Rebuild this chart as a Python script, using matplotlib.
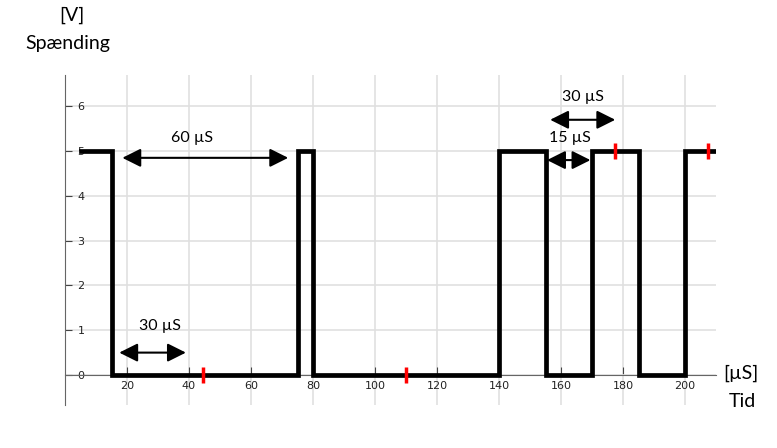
import numpy as np
import matplotlib.pyplot as plt

# Signal: switching times (µS) and levels (V)
t = [5, 15, 75, 80, 140, 155, 170, 185, 200, 210]
v = [5, 0, 5, 0, 5, 0, 5, 0, 5, 5]

# red sample markers
mark_t = [44.5, 110, 177.5, 207.5]
mark_v = [0, 0, 5, 5]

# arrows: (x_start, x_end, y, label, label_x, label_y)
arrows = [
    (18.5, 72, 4.85, "60 µS", 41, 5.3),
    (17.5, 39, 0.5, "30 µS", 30.5, 1.1),
    (156.5, 177.5, 5.7, "30 µS", 167, 6.2),
    (155.5, 169.5, 4.8, "15 µS", 163, 5.3),
]

xticks = [20, 40, 60, 80, 100, 120, 140, 160, 180, 200]
yticks = [0, 1, 2, 3, 4, 5, 6]

fig = plt.figure(figsize=(7.77, 4.48), dpi=100)
ax = fig.add_axes([65 / 777, 43 / 448, 651 / 777, 330 / 448])
ax.set_xlim(0, 210)
ax.set_ylim(-0.67, 6.7)

ax.grid(True, color="#e0e0e0", lw=1.2)
ax.set_axisbelow(True)
ax.set_xticks(xticks)
ax.set_yticks(yticks)

for s in ["top", "right"]:
    ax.spines[s].set_visible(False)
ax.spines["bottom"].set_position(("data", 0))
ax.spines["bottom"].set_color("#666666")
ax.spines["left"].set_color("#666666")

ax.tick_params(axis="x", direction="in", length=6, labelsize=8, pad=4,
               color="#444444", labelcolor="#222222")
ax.tick_params(axis="y", direction="in", length=5, labelsize=8, pad=-9,
               color="#444444", labelcolor="#222222")
for lab in ax.get_yticklabels():
    lab.set_horizontalalignment("left")

ax.plot(t, v, drawstyle="steps-post", color="black", lw=3.4,
        solid_joinstyle="miter", zorder=3)
ax.plot(mark_t, mark_v, ls="none", marker="|", ms=11, mew=2.5,
        color="red", zorder=4)

for x0, x1, y, label, lx, ly in arrows:
    ax.annotate("", xy=(x1, y), xytext=(x0, y),
                arrowprops=dict(arrowstyle="<|-|>", color="black", lw=1.5,
                                mutation_scale=28, shrinkA=0, shrinkB=0),
                zorder=5)
    ax.text(lx, ly, label, ha="center", va="center", fontsize=11.5,
            family="Lato")

fig.text(72 / 777, 1 - 15 / 448, "[V]", ha="center", va="center",
         fontsize=14, family="Lato")
fig.text(68 / 777, 1 - 44 / 448, "Spænding", ha="center", va="center",
         fontsize=14, family="Lato")
fig.text(741 / 777, 1 - 373 / 448, "[µS]", ha="center", va="center",
         fontsize=14, family="Lato")
fig.text(742 / 777, 1 - 401 / 448, "Tid", ha="center", va="center",
         fontsize=14, family="Lato")

fig.savefig("out.png", dpi=100)
